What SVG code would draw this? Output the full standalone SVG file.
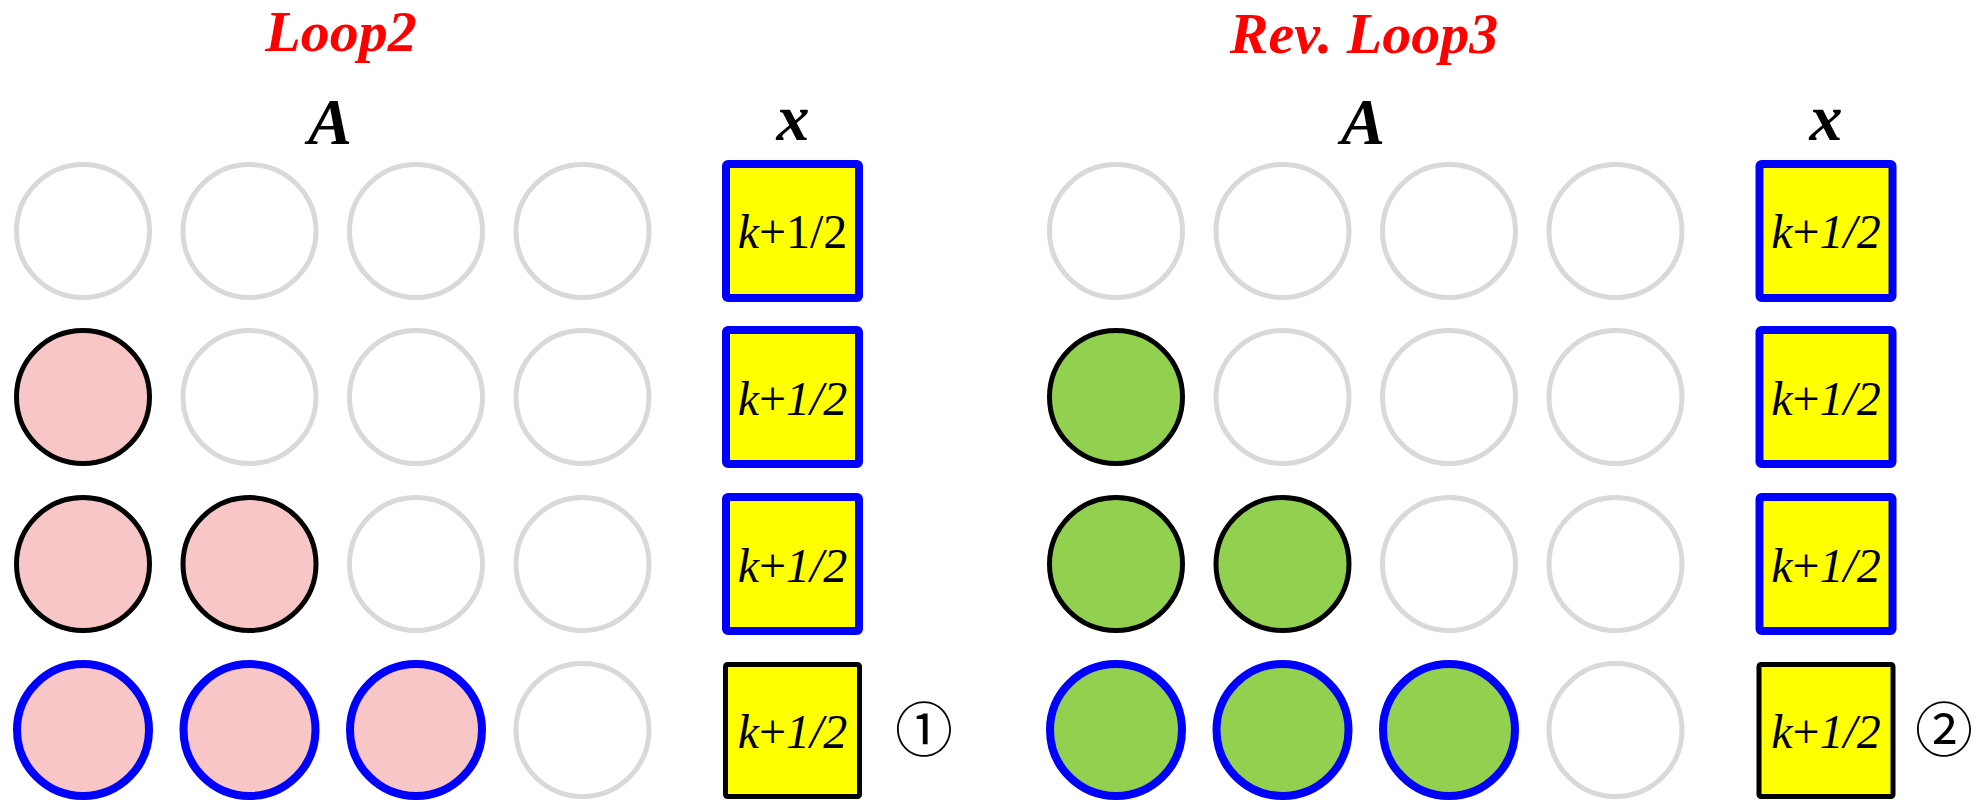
<svg xmlns="http://www.w3.org/2000/svg" width="1980" height="800" viewBox="0 0 1980 800">
<defs>
<circle id="ce" r="66.5" fill="#ffffff" stroke="#d9d9d9" stroke-width="5"/>
<circle id="cpk" r="66.5" fill="#f8c6c6" stroke="#000000" stroke-width="5"/>
<circle id="cpkb" r="66" fill="#f8c6c6" stroke="#0000ff" stroke-width="8"/>
<circle id="cgr" r="66.5" fill="#92d050" stroke="#000000" stroke-width="5"/>
<circle id="cgrb" r="66" fill="#92d050" stroke="#0000ff" stroke-width="8"/>
<rect id="bb" x="-66.5" y="-67" width="133" height="134" rx="2" fill="#ffff00" stroke="#0000ff" stroke-width="8" stroke-linejoin="round"/>
<rect id="bk" x="-67" y="-66" width="134" height="132" rx="2" fill="#ffff00" stroke="#000000" stroke-width="5" stroke-linejoin="round"/>
</defs>
<g id="left-title"><text font-family="Liberation Serif" font-weight="bold" font-style="italic" font-size="58" fill="#ff0000" text-anchor="middle" x="341" y="51">Loop2</text></g>
<g id="left-A"><text font-family="Liberation Serif" font-weight="bold" font-style="italic" font-size="66" fill="#000000" text-anchor="middle" x="330" y="144">A</text></g>
<g id="left-x"><text font-family="Liberation Serif" font-weight="bold" font-style="italic" font-size="66" fill="#000000" text-anchor="middle" x="793" y="140">x</text></g>
<g id="left-matrix">
<use href="#ce" x="83" y="231"/><use href="#ce" x="249.5" y="231"/><use href="#ce" x="416" y="231"/><use href="#ce" x="582.5" y="231"/>
<use href="#cpk" x="83" y="397"/><use href="#ce" x="249.5" y="397"/><use href="#ce" x="416" y="397"/><use href="#ce" x="582.5" y="397"/>
<use href="#cpk" x="83" y="564"/><use href="#cpk" x="249.5" y="564"/><use href="#ce" x="416" y="564"/><use href="#ce" x="582.5" y="564"/>
<use href="#cpkb" x="83" y="730"/><use href="#cpkb" x="249.5" y="730"/><use href="#cpkb" x="416" y="730"/><use href="#ce" x="582.5" y="730"/>
</g>
<g id="left-vector" font-family="Liberation Serif" font-size="48" fill="#000000" text-anchor="middle">
<use href="#bb" x="792.5" y="231"/>
<text x="792.5" y="248"><tspan font-style="italic">k</tspan>+1/2</text>
<use href="#bb" x="792.5" y="397"/>
<text x="792.5" y="415"><tspan font-style="italic">k</tspan>+<tspan font-style="italic">1/2</tspan></text>
<use href="#bb" x="792.5" y="564"/>
<text x="792.5" y="582"><tspan font-style="italic">k</tspan>+<tspan font-style="italic">1/2</tspan></text>
<use href="#bk" x="792.5" y="730.5"/>
<text x="792.5" y="748"><tspan font-style="italic">k</tspan>+<tspan font-style="italic">1/2</tspan></text>
</g>
<g id="left-step"><text font-family="Noto Sans CJK JP" font-size="58" fill="#000000" text-anchor="middle" x="924" y="751">&#9312;</text></g>

<g id="right-title"><text font-family="Liberation Serif" font-weight="bold" font-style="italic" font-size="58" fill="#ff0000" text-anchor="middle" x="1364" y="53">Rev. Loop3</text></g>
<g id="right-A"><text font-family="Liberation Serif" font-weight="bold" font-style="italic" font-size="66" fill="#000000" text-anchor="middle" x="1363" y="144">A</text></g>
<g id="right-x"><text font-family="Liberation Serif" font-weight="bold" font-style="italic" font-size="66" fill="#000000" text-anchor="middle" x="1826" y="140">x</text></g>
<g id="right-matrix">
<use href="#ce" x="1116" y="231"/><use href="#ce" x="1282.5" y="231"/><use href="#ce" x="1449" y="231"/><use href="#ce" x="1615.5" y="231"/>
<use href="#cgr" x="1116" y="397"/><use href="#ce" x="1282.5" y="397"/><use href="#ce" x="1449" y="397"/><use href="#ce" x="1615.5" y="397"/>
<use href="#cgr" x="1116" y="564"/><use href="#cgr" x="1282.5" y="564"/><use href="#ce" x="1449" y="564"/><use href="#ce" x="1615.5" y="564"/>
<use href="#cgrb" x="1116" y="730"/><use href="#cgrb" x="1282.5" y="730"/><use href="#cgrb" x="1449" y="730"/><use href="#ce" x="1615.5" y="730"/>
</g>
<g id="right-vector" font-family="Liberation Serif" font-size="48" fill="#000000" text-anchor="middle">
<use href="#bb" x="1826" y="231"/>
<text x="1826" y="248"><tspan font-style="italic">k</tspan>+<tspan font-style="italic">1/2</tspan></text>
<use href="#bb" x="1826" y="397"/>
<text x="1826" y="415"><tspan font-style="italic">k</tspan>+<tspan font-style="italic">1/2</tspan></text>
<use href="#bb" x="1826" y="564"/>
<text x="1826" y="582"><tspan font-style="italic">k</tspan>+<tspan font-style="italic">1/2</tspan></text>
<use href="#bk" x="1826" y="730.5"/>
<text x="1826" y="748"><tspan font-style="italic">k</tspan>+<tspan font-style="italic">1/2</tspan></text>
</g>
<g id="right-step"><text font-family="Noto Sans CJK JP" font-size="58" fill="#000000" text-anchor="middle" x="1944" y="751">&#9313;</text></g>
<g id="connectors"></g>
</svg>
